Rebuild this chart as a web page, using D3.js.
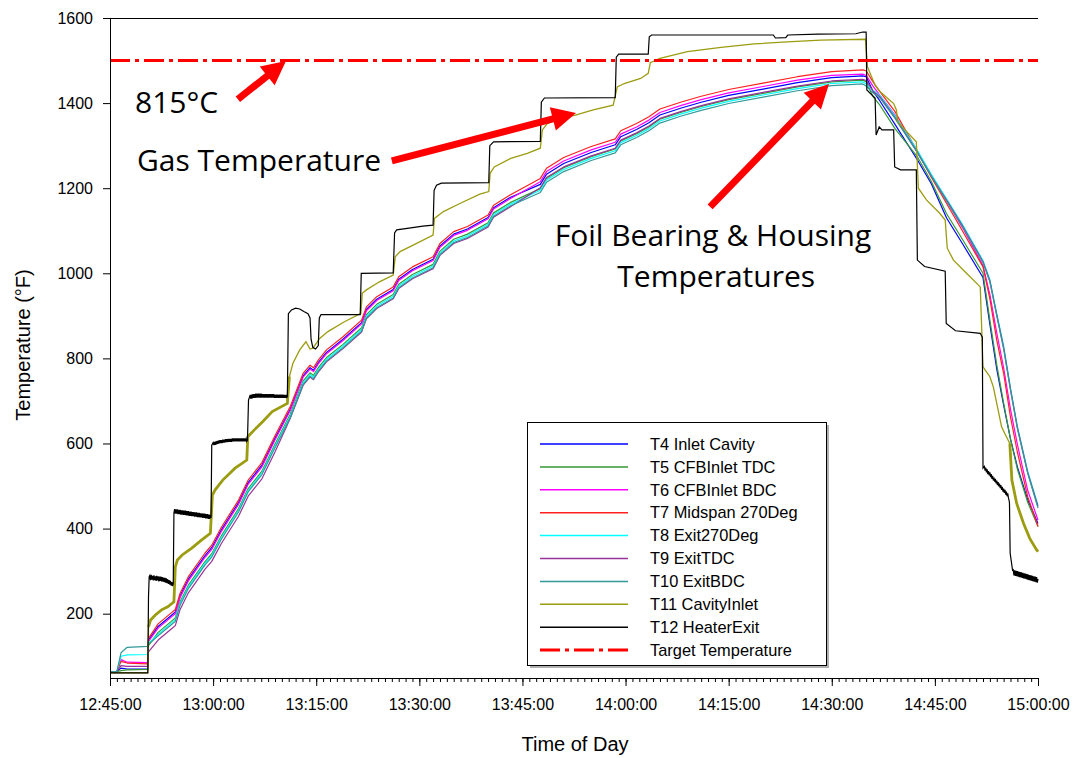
<!DOCTYPE html>
<html>
<head>
<meta charset="utf-8">
<script src="https://cdn.jsdelivr.net/npm/d3@7"></script>
<style>
  body { margin: 0; background: #fff; }
  svg { display: block; font-family: "Liberation Sans", Arial, sans-serif; }
</style>
</head>
<body>
<svg id="chart" width="1080" height="758"></svg>
<script>
// ---- data: minutes after 12:45:00, temperatures in °F ----
const startClock = [12, 45, 0];
const yTicks = [200, 400, 600, 800, 1000, 1200, 1400, 1600];
const targetTemp = 1500;

// shared sampling times for the bearing / housing thermocouples
const foilMinutes = [0,1.0,1.6,2.5,5.5,5.6,7.0,9.0,9.5,10.2,11.4,13.8,14.8,16.2,18.7,20.1,22.1,24.0,26.2,28.1,
  29.1,29.6,30.3,31.5,33.9,36.6,37.3,38.8,41.2,42.0,44.0,47.0,48.0,50.0,52.0,55.0,55.8,58.2,62.6,63.5,
  66.0,70.0,73.5,74.3,76.6,78.4,80.0,83.0,86.0,90.0,95.0,100.0,105.0,109.5,
  110.0,111.0,112.0,114.2,117.4,119.5,121.7,124.0,127.0,128.0,129.0,130.0,131.0,132.0,133.5,135.0];

const t4 = [64,64,72,70,70,138,170,197,204,242,281,336,355,397,461,508,549,612,
  680,759,778,772,790,814,845,884,915,939,962,986,1009,1033,1064,1092,1104,1131,1154,1178,
  1209,1233,1258,1284,1302,1321,1338,1354,1372,1388,1402,1418,1433,1448,1460,1464,
  1462,1428,1405,1350,1268,1210,1130,1070,990,880,775,690,610,545,468,412];
const t5 = [64,64,66,68,69,125,156,183,190,228,267,322,341,383,447,494,535,598,
  668,747,766,760,778,802,833,872,903,927,950,974,997,1021,1052,1080,1092,1119,1142,1166,
  1199,1223,1248,1274,1292,1311,1328,1344,1362,1378,1392,1408,1423,1438,1450,1454,
  1450,1415,1395,1340,1275,1215,1140,1080,1000,890,785,695,610,540,462,405];
const t6 = [64,64,92,86,85,135,166,193,200,238,277,332,351,393,457,504,545,608,
  677,756,775,769,787,811,842,881,912,936,959,983,1006,1030,1061,1089,1101,1128,1151,1175,
  1215,1239,1264,1290,1308,1327,1344,1360,1378,1394,1408,1424,1439,1454,1465,1468,
  1465,1440,1418,1372,1285,1228,1170,1108,1018,950,860,778,680,598,490,420];
const t7 = [64,64,88,84,82,142,176,203,210,248,287,342,361,403,467,514,555,618,
  686,765,784,778,796,820,851,890,921,945,968,992,1015,1039,1070,1098,1110,1137,1160,1184,
  1223,1247,1272,1298,1316,1335,1352,1368,1386,1402,1416,1432,1447,1462,1474,1478,
  1476,1450,1427,1380,1288,1225,1164,1100,1015,940,843,765,662,580,475,405];
const t8 = [64,64,100,103,104,130,152,179,186,224,263,318,337,379,443,490,531,594,
  664,743,762,756,774,798,829,868,899,923,946,970,993,1017,1048,1076,1088,1115,1138,1162,
  1195,1219,1244,1270,1288,1307,1324,1340,1358,1374,1388,1404,1419,1434,1446,1450,
  1445,1430,1418,1370,1290,1232,1175,1115,1030,985,905,830,730,640,535,455];
const t9 = [64,64,78,76,76,110,138,165,172,210,249,304,323,365,429,476,517,580,
  658,737,756,750,768,792,823,862,893,917,940,964,987,1011,1042,1070,1082,1109,1132,1156,
  1201,1225,1250,1276,1294,1313,1330,1346,1364,1380,1394,1410,1425,1440,1452,1456,
  1453,1428,1415,1366,1286,1228,1172,1112,1027,982,902,826,728,638,532,452];
const t10 = [64,64,108,121,123,128,148,175,182,220,259,314,333,375,439,486,527,590,
  660,739,758,752,770,794,825,864,895,919,942,966,989,1013,1044,1072,1084,1111,1134,1158,
  1190,1214,1239,1265,1283,1302,1319,1335,1353,1369,1383,1399,1414,1429,1441,1445,
  1440,1424,1412,1364,1285,1228,1170,1110,1025,980,900,822,725,635,530,448];

// cavity inlet gas: [minute, °F]
const t11 = [[0,61],[5.5,61],[5.6,169],[5.9,185],[6.6,197],[7.5,209],[8.4,216],[9.3,228],[9.5,310],[9.8,326],
  [10.5,338],[11.9,354],[13.3,373],[14.6,389],[14.9,479],[15.3,491],[16.4,514],[18.2,542],[19.9,561],[20.05,616],
  [21.0,632],[22.2,651],[23.6,675],[25.8,694],[26.1,757],[26.6,788],[27.6,820],[28.5,839],[29.1,822],[29.5,824],
  [30.0,835],[30.5,847],[31.7,863],[34.1,886],[36.5,906],[36.7,953],[37.3,961],[39.2,980],[41.2,996],[41.5,1039],
  [42.2,1051],[44.1,1066],[47.0,1090],[47.2,1129],[48.5,1145],[50.9,1164],[53.8,1186],[55.1,1192],[55.3,1235],
  [55.9,1250],[58.3,1270],[60.7,1282],[62.6,1294],[62.9,1337],[63.6,1352],[65.5,1364],[67.7,1372],[70.3,1384],
  [73.2,1395],[73.8,1438],[74.8,1446],[77.2,1458],[78.3,1470],[78.6,1495],[80.0,1505],[84.0,1521],[88.9,1531],
  [93.7,1539],[98.5,1544],[103.4,1548],[109.9,1550],[110.2,1485],[111.3,1442],[112.0,1427],[114.0,1399],
  [114.4,1384],[114.6,1356],[115.9,1333],[117.3,1309],[117.6,1200],[118.8,1172],[120.7,1141],[121.5,1125],
  [121.8,1059],[122.7,1031],[124.6,1000],[126.6,968],[127.0,780],[127.3,773],[128.0,757],[128.5,733],[129.0,694],
  [129.7,639],[130.4,616],[130.9,600],[131.2,514],[131.9,459],[132.9,412],[133.8,377],[134.8,350],[135.0,346]];

// heater exit gas, steady stretches and steps: [minute, °F]
const t12Steps = [[0,61],[5.5,61],[5.6,240],[5.7,287],
  [9.2,270],[9.3,437],[14.7,425],[14.8,596],[20.0,608],[20.15,702],
  [25.8,710],[25.95,905],[26.4,914],[27.0,918],[27.6,916],[28.2,910],[28.8,905],[29.1,895],[29.25,845],[29.5,826],
  [29.9,822],[30.3,830],[30.45,895],[30.7,903],[36.4,903],[36.55,1000],[41.2,1001],[41.4,1095],[41.7,1102],
  [43.5,1106],[45.5,1111],[47.0,1113],[47.15,1195],[47.5,1207],[48.2,1212],[55.1,1213],[55.25,1300],[55.8,1309],
  [62.6,1310],[62.75,1402],[63.2,1412],[73.5,1413],[73.65,1508],[74.0,1515],[78.3,1515],[78.45,1556],[78.8,1560],
  [96.5,1560],[96.8,1553],[98.3,1554],[98.6,1560],[103.0,1562],[108.5,1563],[109.5,1567],[110.0,1567],
  [110.1,1431],[111.3,1412],[111.45,1325],[111.9,1344],[112.3,1337],[114.0,1337],[114.15,1250],[115.0,1243],
  [117.3,1243],[117.45,1031],[118.5,1016],[121.5,1005],[121.65,882],[123.0,865],[126.6,859],[126.9,850],[127.0,542],
  [130.85,460],[130.95,342],[131.3,302]];

// heater exit gas, fluctuating stretches logged every 0.1 min
const t12Noisy = [
  {start: 5.8, values: [290,279,291,280,289,278,290,279,288,277,289,278,288,276,287,277,287,276,286,275,
    285,274,284,273,283,272,281,270,279,268,277,266,274,265]},
  {start: 9.4, values: [446,435,445,435,445,434,444,434,444,433,443,433,443,432,442,432,442,431,441,431,
    441,430,440,430,440,429,439,429,439,428,438,428,438,427,437,427,437,426,436,426,
    436,425,435,425,435,424,434,424,434,423,433,423,432]},
  {start: 15.0, values: [602,596,604,597,605,598,606,599,607,600,608,601,608,601,609,602,609,602,610,603,
    610,603,611,604,611,604,611,604,612,605,612,605,612,605,612,605,612,605,612,605,
    612,605,612,605,612,605,612,605,611,605]},
  {start: 20.4, values: [714,705,715,706,716,707,716,707,717,708,717,708,717,708,717,708,717,708,716,708,
    716,708,716,708,716,708,716,708,716,708,716,708,716,708,716,707,715,707,715,707,
    715,707,715,707,715,707,715,707,715,707,714,707,714,708]},
  {start: 127.2, values: [546,536,543,532,539,528,535,525,532,521,528,517,524,513,520,510,517,506,513,502,
    509,499,506,495,502,491,498,487,494,484,491,480,487,476,483,472,466]},
  {start: 131.4, values: [303,290,302,289,301,288,300,287,299,286,298,285,297,284,296,283,295,282,294,281,
    293,280,292,279,291,278,290,277,289,276,288,275,287,274,286,273,282]}
];
const noisyStep = 0.1;

const seriesNames = ["T4 Inlet Cavity","T5 CFBInlet TDC","T6 CFBInlet BDC","T7 Midspan 270Deg","T8 Exit270Deg",
  "T9 ExitTDC","T10 ExitBDC","T11 CavityInlet","T12 HeaterExit","Target Temperature"];
const seriesColors = ["#0000ff","#339933","#ff00ff","#ff2020","#00ffff","#993399","#339999","#9c9c10","#000000","#ff0000"];

// annotation anchors in data space [minute, °F]
const notes = [
  {text: "815°C", at: [3.64, 1377]},
  {text: "Gas Temperature", at: [3.93, 1240]},
  {text: "Foil Bearing & Housing", at: [64.7, 1064]},
  {text: "Temperatures", at: [73.8, 967]}
];
const arrows = [
  {from: [18.6, 1409], to: [25.6, 1499]},
  {from: [41.0, 1264], to: [67.8, 1377]},
  {from: [87.3, 1156], to: [104.6, 1445]}
];

// ---- chart ----
const svg = d3.select("#chart");
const W = 1080, H = 758;
const m = {left: 110, right: 42, top: 18, bottom: 80};
const base = new Date(2000, 0, 1, startClock[0], startClock[1], startClock[2]);
const toDate = mins => new Date(base.getTime() + mins * 60000);

const x = d3.scaleTime().domain([toDate(0), toDate(135)]).range([m.left, W - m.right]);
const y = d3.scaleLinear().domain([50, 1600]).range([H - m.bottom - 0.5, m.top]);
const px = d => x(toDate(d[0]));
const py = d => y(d[1]);

// merge the heater-exit record into one time-ordered trace
const t12 = t12Steps.concat(
  ...t12Noisy.map(seg => seg.values.map((v, i) => [+(seg.start + i * noisyStep).toFixed(2), v]))
).sort((a, b) => a[0] - b[0]);

svg.append("defs").append("clipPath").attr("id", "plotClip")
  .append("rect").attr("x", m.left).attr("y", m.top - 2)
  .attr("width", W - m.right - m.left + 1).attr("height", H - m.bottom - m.top + 4);

const plot = svg.append("g").attr("clip-path", "url(#plotClip)");
const line = d3.line().x(px).y(py);

const foilSeries = [t4, t5, t6, t7, t8, t9, t10];
foilSeries.forEach((vals, i) => {
  plot.append("path")
    .datum(foilMinutes.map((t, k) => [t, vals[k]]))
    .attr("d", line)
    .attr("fill", "none")
    .attr("stroke", seriesColors[i])
    .attr("stroke-width", 1.2)
    .attr("stroke-linejoin", "round");
});
plot.append("path").datum(t11).attr("d", line)
  .attr("fill", "none").attr("stroke", seriesColors[7]).attr("stroke-width", 1.3);
// the cavity inlet trace is heavier where its readings fluctuate
[t11.filter(d => d[0] > 5.5 && d[0] <= 26.1), t11.filter(d => d[0] >= 130.9)].forEach(part => {
  plot.append("path").datum(part).attr("d", line)
    .attr("fill", "none").attr("stroke", seriesColors[7]).attr("stroke-width", 2.8);
});
plot.append("path").datum(t12).attr("d", line)
  .attr("fill", "none").attr("stroke", seriesColors[8]).attr("stroke-width", 1.2);

// target temperature
plot.append("path").datum([[0, targetTemp], [135, targetTemp]]).attr("d", line)
  .attr("fill", "none").attr("stroke", seriesColors[9]).attr("stroke-width", 3)
  .attr("stroke-dasharray", "20,5,4,5");

// frame top
svg.append("line").attr("x1", m.left).attr("x2", W - m.right)
  .attr("y1", m.top + 0.5).attr("y2", m.top + 0.5).attr("stroke", "#000").attr("stroke-width", 1);

// axes
const xAxis = svg.append("g").attr("transform", `translate(0,${H - m.bottom})`);
xAxis.call(d3.axisBottom(x).ticks(d3.timeMinute.every(1)).tickSize(4).tickFormat(""));
xAxis.call(g => g.selectAll(".domain").remove());
const xMajor = svg.append("g").attr("transform", `translate(0,${H - m.bottom})`)
  .call(d3.axisBottom(x).ticks(d3.timeMinute.every(15)).tickSize(8).tickPadding(13)
    .tickFormat(d3.timeFormat("%H:%M:%S")));
xMajor.selectAll("text").attr("font-size", 16).attr("fill", "#000")
  .attr("font-family", "'Liberation Sans', Arial, sans-serif");
svg.selectAll(".tick line").attr("stroke", "#000");
xMajor.select(".domain").attr("d", `M${m.left},0.5H${W - m.right}`).attr("stroke", "#000");

const yAxis = svg.append("g").attr("transform", `translate(${m.left},0)`)
  .call(d3.axisLeft(y).tickValues(yTicks).tickSize(7).tickPadding(10).tickFormat(d3.format("d")));
yAxis.selectAll("text").attr("font-size", 16).attr("fill", "#000")
  .attr("font-family", "'Liberation Sans', Arial, sans-serif");
yAxis.select(".domain").attr("d", `M0.5,${m.top}V${H - m.bottom}`).attr("stroke", "#000");
yAxis.selectAll(".tick line").attr("stroke", "#000");

// axis titles
svg.append("text").attr("x", (m.left + W - m.right) / 2 + 1).attr("y", 751)
  .attr("text-anchor", "middle").attr("font-size", 20).text("Time of Day");
svg.append("text").attr("transform", "translate(30,345) rotate(-90)")
  .attr("text-anchor", "middle").attr("font-size", 20).text("Temperature (°F)");

// annotations
const ann = svg.append("g");
notes.forEach(n => {
  ann.append("text").attr("x", px(n.at)).attr("y", py(n.at))
    .attr("font-family", "'Open Sans', 'Noto Sans', sans-serif")
    .attr("font-size", 30).attr("fill", "#000").text(n.text);
});
arrows.forEach(a => {
  const x0 = px(a.from), y0 = py(a.from), x1 = px(a.to), y1 = py(a.to);
  const dx = x1 - x0, dy = y1 - y0, len = Math.hypot(dx, dy);
  const ux = dx / len, uy = dy / len, nx = -uy, ny = ux;
  const hw = 3.5, headL = 24, headW = 12;
  const bx = x1 - ux * headL, by = y1 - uy * headL;
  const pts = [
    [x0 + nx * hw, y0 + ny * hw], [bx + nx * hw, by + ny * hw], [bx + nx * headW, by + ny * headW],
    [x1, y1],
    [bx - nx * headW, by - ny * headW], [bx - nx * hw, by - ny * hw], [x0 - nx * hw, y0 - ny * hw]
  ];
  ann.append("path").attr("d", "M" + pts.map(p => p.join(",")).join("L") + "Z").attr("fill", "#ff0000");
});

// legend
const lg = svg.append("g");
const lx = 527, ly = 422, lw = 299, lh = 243;
lg.append("rect").attr("x", lx + 3).attr("y", ly + 3).attr("width", lw).attr("height", lh).attr("fill", "#b0b0b0");
lg.append("rect").attr("x", lx + 0.5).attr("y", ly + 0.5).attr("width", lw).attr("height", lh)
  .attr("fill", "#fff").attr("stroke", "#000");
seriesNames.forEach((name, i) => {
  const yy = ly + 22 + i * 22.9;
  const isTarget = i === seriesNames.length - 1;
  lg.append("line").attr("x1", lx + 13).attr("x2", lx + 101).attr("y1", yy).attr("y2", yy)
    .attr("stroke", seriesColors[i]).attr("stroke-width", isTarget ? 3 : 1.5)
    .attr("stroke-dasharray", isTarget ? "20,5,4,5" : null);
  lg.append("text").attr("x", lx + 123).attr("y", yy).attr("dy", "0.35em")
    .attr("font-size", 16.4).attr("fill", "#000").text(name);
});
</script>
</body>
</html>
